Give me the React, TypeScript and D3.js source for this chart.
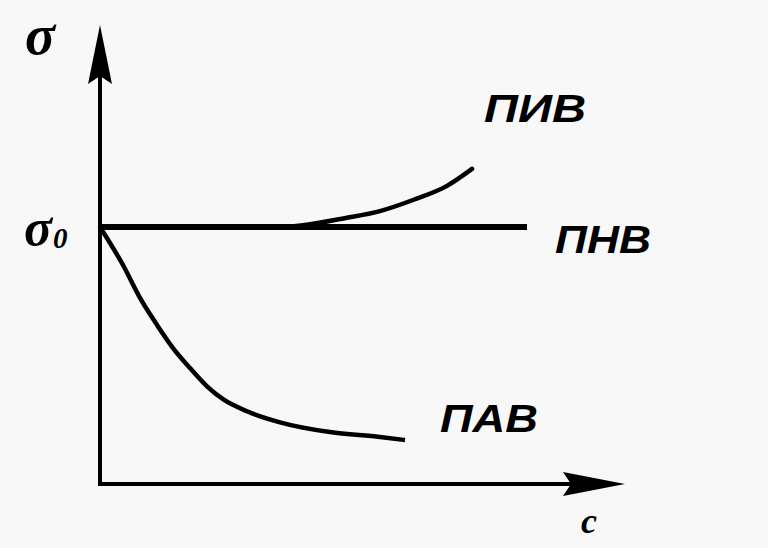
import React from "react";
import * as d3 from "d3";

// Curves: concentration c (arbitrary units) vs surface tension σ/σ0
const pnvC = [0, 8.54];
const pnvS = [1, 1];

const pivC = [0, 3.6, 4.94, 5.6, 6.26, 6.94, 7.44];
const pivS = [1, 1, 1.036, 1.062, 1.105, 1.16, 1.226];

const pavC = [0, 0.46, 0.8, 1.14, 1.46, 1.8, 2.14, 2.46, 2.94, 3.6, 4.6, 5.6, 6.1];
const pavS = [1, 0.852, 0.724, 0.619, 0.529, 0.451, 0.38, 0.33, 0.283, 0.24, 0.202, 0.183, 0.171];

const seriesLabels = ["ПИВ", "ПНВ", "ПАВ"];
const axisLabels = ["σ", "σ", "0", "c"];

const W = 768;
const H = 548;

export default function App() {
  const x = d3.scaleLinear().domain([0, 10]).range([100, 600]);
  const y = d3.scaleLinear().domain([0, 1]).range([484, 227]);

  const line = d3
    .line<[number, number]>()
    .x((d) => x(d[0]))
    .y((d) => y(d[1]))
    .curve(d3.curveMonotoneX);

  const zip = (a: number[], b: number[]) => a.map((v, i) => [v, b[i]] as [number, number]);

  const x0 = x(0);
  const y0 = y(0);
  const yTip = y(1.786);
  const xTip = x(10.5);

  const labelStyle: React.CSSProperties = {
    fontFamily: "Liberation Sans, Arial, sans-serif",
    fontWeight: 700,
    fontStyle: "italic",
    fontSize: 39,
  };
  const serifStyle: React.CSSProperties = {
    fontFamily: "Liberation Serif, Times New Roman, serif",
    fontWeight: 700,
    fontStyle: "italic",
  };

  return (
    <svg
      width={W}
      height={H}
      style={{ position: "absolute", left: 0, top: 0, display: "block" }}
    >
      <rect x={0} y={0} width={W} height={H} fill="#f8f8f8" />
      {/* axes */}
      <line x1={x0} y1={y0 + 2} x2={x0} y2={yTip + 40} stroke="#000" strokeWidth={4} />
      <line x1={x0 - 2} y1={y0} x2={xTip - 40} y2={y0} stroke="#000" strokeWidth={4} />
      <path
        d={`M${x0},${yTip} L${x0 + 12},${yTip + 59} L${x0},${yTip + 51} L${x0 - 12},${yTip + 59} Z`}
        fill="#000"
      />
      <path
        d={`M${xTip},${y0} L${xTip - 62},${y0 - 12} L${xTip - 54},${y0} L${xTip - 62},${y0 + 12} Z`}
        fill="#000"
      />
      {/* curves */}
      <path d={line(zip(pnvC, pnvS)) || ""} fill="none" stroke="#000" strokeWidth={6} />
      <path d={line(zip(pivC, pivS)) || ""} fill="none" stroke="#000" strokeWidth={4.5} strokeLinecap="round" />
      <path d={line(zip(pavC, pavS)) || ""} fill="none" stroke="#000" strokeWidth={4.5} strokeLinecap="butt" />
      {/* series labels */}
      <text x={484} y={122} style={labelStyle} textLength={102} lengthAdjust="spacingAndGlyphs">
        {seriesLabels[0]}
      </text>
      <text x={555} y={253} style={labelStyle} textLength={96} lengthAdjust="spacingAndGlyphs">
        {seriesLabels[1]}
      </text>
      <text x={440} y={432} style={labelStyle} textLength={98} lengthAdjust="spacingAndGlyphs">
        {seriesLabels[2]}
      </text>
      {/* axis labels */}
      <text x={25} y={54} style={{ ...serifStyle, fontSize: 56 }}>
        {axisLabels[0]}
      </text>
      <text x={24} y={245} style={{ ...serifStyle, fontSize: 52 }}>
        {axisLabels[1]}
      </text>
      <text x={53} y={248} style={{ ...serifStyle, fontSize: 29 }}>
        {axisLabels[2]}
      </text>
      <text x={581} y={533} style={{ ...serifStyle, fontSize: 36 }}>
        {axisLabels[3]}
      </text>
    </svg>
  );
}
